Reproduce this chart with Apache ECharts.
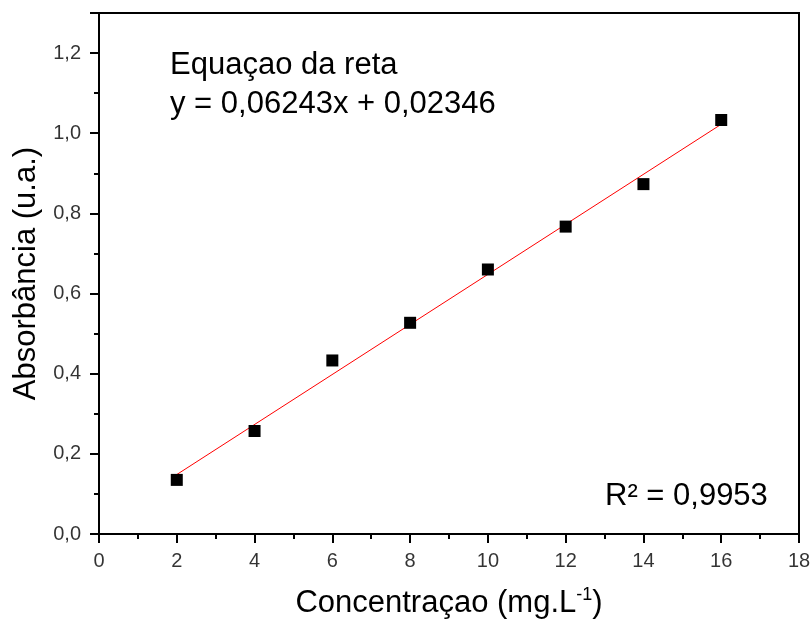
<!DOCTYPE html>
<html>
<head>
<meta charset="utf-8">
<script src="https://cdn.jsdelivr.net/npm/echarts@6/dist/echarts.min.js"></script>
<style>
  html, body { margin: 0; padding: 0; background: #fff; }
  #chart { width: 811px; height: 625px; }
</style>
</head>
<body>
<div id="chart"></div>
<script>
// concentration values (mg/L)
var concentrations = [2, 4, 6, 8, 10, 12, 14, 16];
// measured absorbance
var absorbances = [0.135, 0.257, 0.433, 0.527, 0.660, 0.767, 0.873, 1.033];
// linear fit coefficients
var slope = 0.06243;
var intercept = 0.02346;
var fitRange = [2, 16];
// tick label values
var xTicks = [0, 2, 4, 6, 8, 10, 12, 14, 16, 18];
var yTicks = [0, 0.2, 0.4, 0.6, 0.8, 1.0, 1.2];

var points = concentrations.map(function (c, i) { return [c, absorbances[i]]; });
var fitLine = fitRange.map(function (x) { return [x, slope * x + intercept]; });

var font = "Liberation Sans";
var black = { color: "#000", width: 2 };
var hidden = { color: "rgba(0,0,0,0)" };

var chart = echarts.init(document.getElementById("chart"));
var option = {
  backgroundColor: "#fff",
  animation: false,
  grid: {
    left: 99, right: 12, top: 13, bottom: 91,
    show: true, borderColor: "#000", borderWidth: 2
  },
  xAxis: {
    type: "value", min: 0, max: 18, interval: 2,
    name: "Concentraçao (mg.L{sup|-1})",
    nameLocation: "middle", nameGap: 52,
    nameTextStyle: {
      fontFamily: font, fontSize: 31, color: "#000",
      rich: { sup: { fontFamily: font, fontSize: 18, color: "#000", verticalAlign: "top", padding: [0, 0, 16, 0] } }
    },
    axisLine: { lineStyle: black },
    axisTick: { length: 9, lineStyle: black },
    minorTick: { show: true, splitNumber: 2, length: 5, lineStyle: black },
    splitLine: { show: false },
    axisLabel: { show: false }
  },
  yAxis: {
    type: "value", min: 0, max: 1.3, interval: 0.2,
    name: "Absorbância (u.a.)",
    nameLocation: "middle", nameGap: 57,
    nameTextStyle: { fontFamily: font, fontSize: 31, color: "#000" },
    axisLine: { lineStyle: black },
    axisTick: { length: 9, lineStyle: black },
    minorTick: { show: true, splitNumber: 2, length: 5, lineStyle: black },
    splitLine: { show: false },
    axisLabel: { show: false }
  },
  series: [
    {
      type: "line", data: fitLine, symbol: "none",
      lineStyle: { color: "#ff0000", width: 1 }, z: 2
    },
    {
      type: "scatter", data: points, symbol: "rect", symbolSize: 12,
      itemStyle: { color: "#000", opacity: 1 }, z: 3
    },
    // tick labels along the x axis
    {
      type: "scatter", silent: true, clip: false, symbolSize: 0,
      data: xTicks.map(function (v) { return [v, 0]; }),
      itemStyle: hidden,
      label: {
        show: true, position: "bottom", distance: 17,
        fontFamily: font, fontSize: 20, color: "#000",
        formatter: function (p) { return String(p.value[0]); }
      }
    },
    // tick labels along the y axis
    {
      type: "scatter", silent: true, clip: false, symbolSize: 0,
      data: yTicks.map(function (v) { return [0, v]; }),
      itemStyle: hidden,
      label: {
        show: true, position: "left", distance: 18,
        fontFamily: font, fontSize: 20, color: "#000",
        formatter: function (p) { return p.value[1].toFixed(1).replace(".", ","); }
      }
    }
  ],
  graphic: [
    { type: "text", x: 170, y: 65, style: { text: "Equaçao da reta", font: "31px " + font, fill: "#000", verticalAlign: "middle" } },
    { type: "text", x: 170, y: 104, style: { text: "y = 0,06243x + 0,02346", font: "31px " + font, fill: "#000", verticalAlign: "middle" } },
    { type: "text", x: 605, y: 496, style: { text: "R² = 0,9953", font: "31px " + font, fill: "#000", verticalAlign: "middle" } }
  ]
};
chart.setOption(option);
</script>
</body>
</html>
